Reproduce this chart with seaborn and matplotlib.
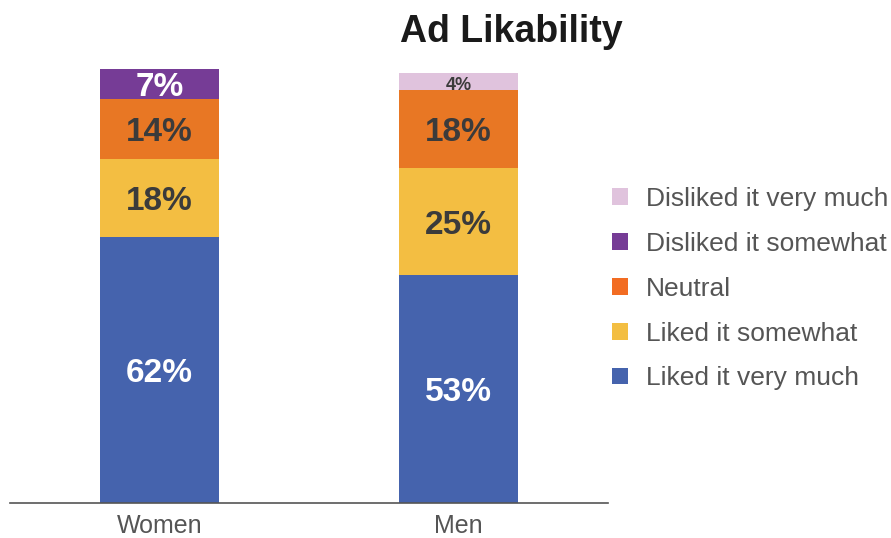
import matplotlib
matplotlib.use("Agg")
import matplotlib.pyplot as plt
from matplotlib.patches import Patch
import seaborn as sns
import pandas as pd
import numpy as np

groups = ["Women", "Men"]
categories = ["Liked it very much", "Liked it somewhat", "Neutral",
              "Disliked it somewhat", "Disliked it very much"]
women = [62, 18, 14, 7, 0]
men = [53, 25, 18, 0, 4]
colors = ["#4563AD", "#F3BE42", "#E87724", "#763C96", "#E0C3DD"]
legend_colors = ["#4563AD", "#F3BE42", "#F26C22", "#763C96", "#E0C3DD"]
label_colors = ["white", "#3B3B3B", "#3B3B3B", "white", "#3B3B3B"]

sns.set_theme(style="white")
plt.rcParams["font.family"] = ["Liberation Sans", "DejaVu Sans"]

values = np.array([women, men])
cum = values.cumsum(axis=1)

fig = plt.figure(figsize=(8.91, 5.38), dpi=100)
ax = fig.add_axes([10 / 891, 35 / 538, 598 / 891, 434 / 538])

# stacked bars: draw the tallest cumulative layer first, lower layers on top
for k in range(len(categories) - 1, -1, -1):
    df = pd.DataFrame({"group": groups, "total": cum[:, k]})
    sns.barplot(data=df, x="group", y="total", color=colors[k],
                width=0.4, saturation=1, ax=ax, linewidth=0)

# value labels centred in each segment
for i, g in enumerate(groups):
    for k in range(len(categories)):
        v = values[i, k]
        if v == 0:
            continue
        mid = cum[i, k] - v / 2
        size = 13 if v < 5 else 24
        ax.annotate(f"{v}%", (i, mid), xytext=(0, -2.5), textcoords="offset points",
                    ha="center", va="center", fontsize=size, fontweight="bold",
                    color=label_colors[k])

ax.set_xlim(-0.5, 1.5)
ax.set_ylim(0, 101)
ax.set_xlabel("")
ax.set_ylabel("")
ax.set_yticks([])
ax.tick_params(axis="x", length=0, labelsize=18, labelcolor="#555555", pad=8)
for s in ["top", "right", "left"]:
    ax.spines[s].set_visible(False)
ax.spines["bottom"].set_color("#555555")
ax.spines["bottom"].set_linewidth(1.2)

fig.text(511 / 891, 1 - 42 / 538, "Ad Likability", ha="center", va="baseline",
         fontsize=27, fontweight="bold", color="#1a1a1a")

handles = [Patch(facecolor=legend_colors[k], edgecolor="none", label=categories[k])
           for k in range(len(categories) - 1, -1, -1)]
leg = fig.legend(handles=handles, loc="upper left",
                 bbox_to_anchor=(612 / 891, 1 - 187 / 538), frameon=False,
                 fontsize=19, handlelength=0.6, handleheight=0.6,
                 handletextpad=0.68, labelspacing=0.79, borderpad=0,
                 borderaxespad=0)
for t in leg.get_texts():
    t.set_color("#555555")

fig.savefig("out.png", dpi=100)
